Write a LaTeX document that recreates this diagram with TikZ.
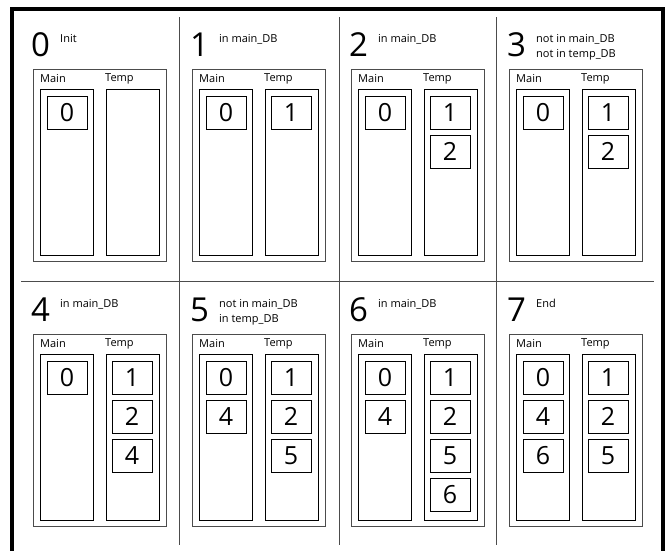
\documentclass[tikz,border=0pt]{standalone}
\usepackage{fontspec}
\setmainfont{Open Sans}
\usetikzlibrary{positioning}

% one step of the run: number, caption, Main and Temp columns
\newcommand{\dbpanel}[6]{%
  \begin{scope}[shift={(#2,#3)}]
    \node[stepnum] (num#1) at (-2,-24) {#1};
    \node[caption] (cap#1) at (27,-35) {#4};
    \draw[panelbox] (0,0) rectangle (133,192);
    \node[colhead] (mainhd#1) at (7,10) {Main};
    \node[colhead] (temphd#1) at (72,10) {Temp};
    \draw[column] (7,20) rectangle (60,186);
    \draw[column] (73,20) rectangle (126,186);
    \foreach \v [count=\k from 0] in {#5} {
      \node[item] (main#1-\k) at (34,43.5+39*\k) {\v};
    }
    \foreach \v [count=\k from 0] in {#6} {
      \node[item] (temp#1-\k) at (99,43.5+39*\k) {\v};
    }
  \end{scope}%
}

\begin{document}
\begin{tikzpicture}[x=1pt, y=-1pt,
  every node/.style={inner sep=0pt},
  frame/.style={line width=4pt},
  divider/.style={draw=black!70, line width=1pt},
  panelbox/.style={draw=black!70, line width=1pt},
  column/.style={draw=black, line width=0.9pt},
  item/.style={draw=black, line width=0.9pt, minimum width=40pt,
               minimum height=33pt, font=\fontsize{25}{25}\selectfont},
  stepnum/.style={anchor=west, font=\fontsize{33}{33}\selectfont},
  caption/.style={anchor=north west, align=left,
                  font=\fontsize{11}{15}\selectfont},
  colhead/.style={anchor=west, font=\fontsize{11}{11}\selectfont}
]
\useasboundingbox (0,0) rectangle (669,550);

% outer frame, open at the bottom
\draw[frame] (12,552) -- (12,9) -- (663,9) -- (663,552);

% grid lines
\foreach \x in {179,339,496} {
  \draw[divider] (\x,17) -- (\x,545);
}
\draw[divider] (21,281) -- (654,281);

% top row
\dbpanel{0}{33}{69}{Init}{0}{}
\dbpanel{1}{192}{69}{in main\_DB}{0}{1}
\dbpanel{2}{351}{69}{in main\_DB}{0}{1,2}
\dbpanel{3}{509}{69}{not in main\_DB\\not in temp\_DB}{0}{1,2}

% bottom row
\dbpanel{4}{33}{334}{in main\_DB}{0}{1,2,4}
\dbpanel{5}{192}{334}{not in main\_DB\\in temp\_DB}{0,4}{1,2,5}
\dbpanel{6}{351}{334}{in main\_DB}{0,4}{1,2,5,6}
\dbpanel{7}{509}{334}{End}{0,4,6}{1,2,5}
\end{tikzpicture}
\end{document}
